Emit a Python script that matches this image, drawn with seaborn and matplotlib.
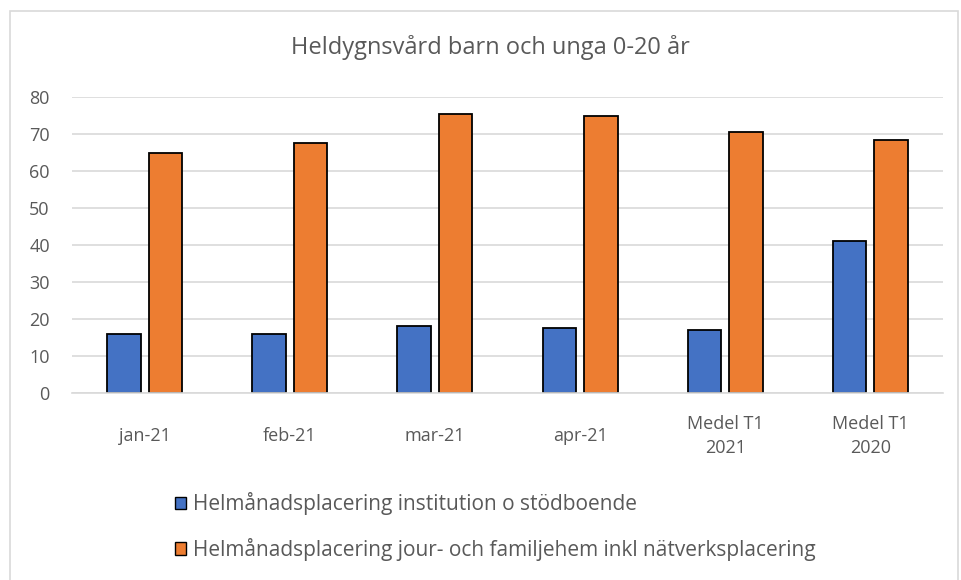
import matplotlib
matplotlib.use("Agg")
import matplotlib.pyplot as plt
import matplotlib.patches as mpatches
import pandas as pd
import seaborn as sns

# Values
categories = ["jan-21", "feb-21", "mar-21", "apr-21", "Medel T1\n2021", "Medel T1\n2020"]
institution = [16, 16, 18, 17.5, 17, 41]
jour_familjehem = [65, 67.5, 75.5, 75, 70.6, 68.5]
series_names = [
    "Helmånadsplacering institution o stödboende",
    "Helmånadsplacering jour- och familjehem inkl nätverksplacering",
]
colors = ["#4472C4", "#ED7D31"]
title = "Heldygnsvård barn och unga 0-20 år"

df = pd.DataFrame({
    "Kategori": categories * 2,
    "Antal": institution + jour_familjehem,
    "Serie": [series_names[0]] * len(categories) + [series_names[1]] * len(categories),
})

sns.set_style("white")
plt.rcParams["font.family"] = ["Open Sans", "DejaVu Sans"]

text_grey = "#595959"
fig = plt.figure(figsize=(9.62, 5.80), dpi=100)
ax = fig.add_axes([72 / 962, 1 - 393 / 580, (943 - 72) / 962, (393 - 97) / 580])

sns.barplot(data=df, x="Kategori", y="Antal", hue="Serie", order=categories,
            hue_order=series_names, palette=colors, width=0.57, gap=0.19,
            edgecolor="black", linewidth=1.3, saturation=1, ax=ax)

ax.set_ylim(0, 80)
ax.set_xlim(-0.5, len(categories) - 0.5)
ax.set_yticks(range(0, 81, 10))
ax.yaxis.grid(True, color="#d9d9d9", linewidth=1.2)
ax.set_axisbelow(True)
for s in ["left", "right", "top"]:
    ax.spines[s].set_visible(False)
ax.spines["bottom"].set_color("#d9d9d9")
ax.spines["bottom"].set_linewidth(1.2)
ax.tick_params(axis="both", length=0, labelsize=13, colors=text_grey)
ax.tick_params(axis="y", pad=16)
ax.tick_params(axis="x", pad=31)
plt.setp(ax.get_xticklabels(), va="center", linespacing=1.45)
ax.set_xlabel("")
ax.set_ylabel("")

fig.text(490 / 962, 1 - 47 / 580, title, ha="center", va="center",
         fontsize=17, color=text_grey)

handles = [mpatches.Patch(facecolor=c, edgecolor="black", linewidth=1) for c in colors]
ax.legend_.remove()
fig.legend(handles, series_names, loc="upper left",
           bbox_to_anchor=(167 / 962, 1 - 484 / 580), frameon=False,
           fontsize=15, labelcolor=text_grey, handlelength=0.53, handleheight=0.53,
           handletextpad=0.3, labelspacing=1.08, borderaxespad=0)

fig.patches.append(mpatches.Rectangle((10 / 962, -0.05), 948 / 962, 1.05 - 11 / 580,
                                      transform=fig.transFigure, fill=False,
                                      edgecolor="#d9d9d9", linewidth=1.2))

fig.savefig("out.png", dpi=100)
